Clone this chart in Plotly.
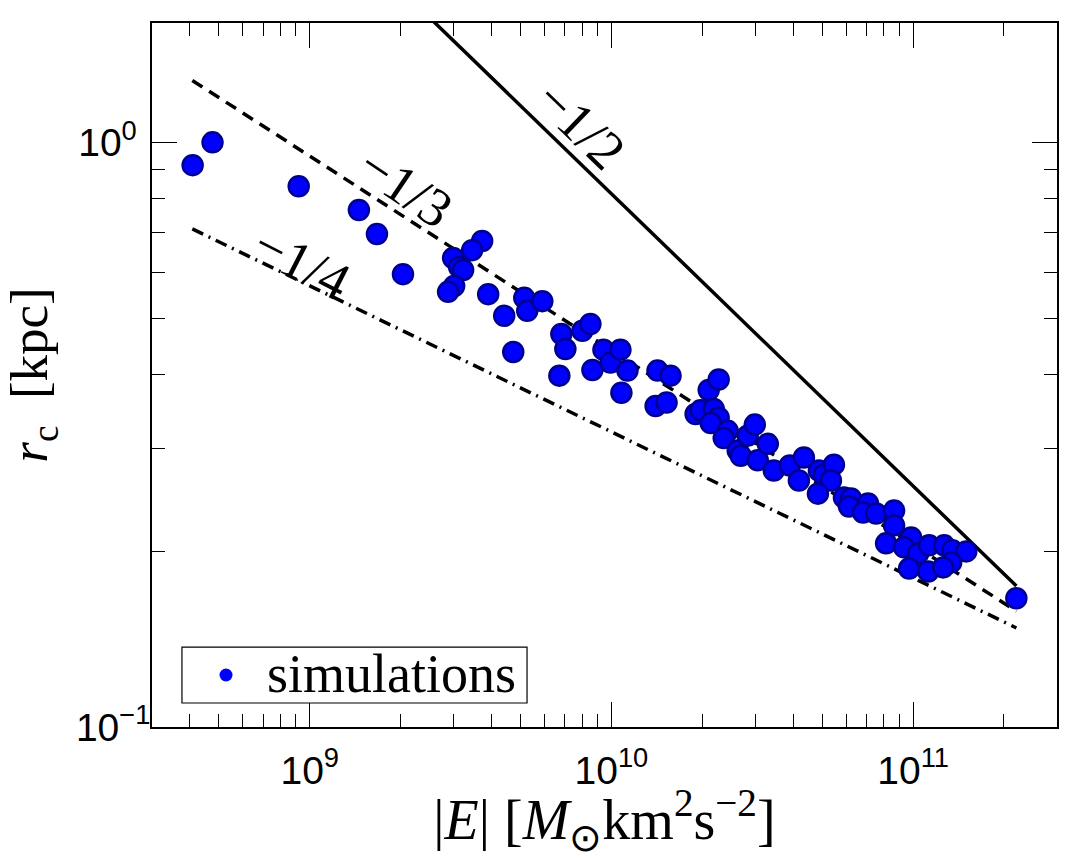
import plotly.graph_objects as go

# simulation points: |E| [Msun km^2 s^-2], r_c [kpc]
E_sim = [4.09e8, 4.76e8, 9.19e8, 1.455e9, 1.670e9, 2.037e9, 3.727e9, 3.453e9, 2.987e9, 3.126e9,
         3.223e9, 3.010e9, 2.874e9, 3.903e9, 4.411e9, 5.140e9, 5.259e9, 5.899e9, 4.726e9, 6.823e9,
         7.035e9, 8.012e9, 8.516e9, 6.719e9, 8.648e9, 9.406e9, 9.924e9, 1.071e10, 1.130e10, 1.079e10,
         1.421e10, 1.570e10, 1.401e10, 1.523e10, 2.101e10, 2.267e10, 1.901e10, 1.975e10, 2.183e10, 2.267e10,
         2.133e10, 2.429e10, 2.356e10, 2.622e10, 2.683e10, 2.830e10, 2.987e10, 3.055e10, 3.298e10, 3.453e10,
         3.903e10, 4.345e10, 4.182e10, 4.873e10, 5.062e10, 5.464e10, 5.340e10, 4.836e10, 5.899e10, 6.223e10,
         6.129e10, 7.088e10, 6.823e10, 7.538e10, 8.648e10, 8.648e10, 8.135e10, 9.850e10, 9.335e10, 1.039e11,
         1.130e11, 9.700e10, 1.122e11, 1.268e11, 1.348e11, 1.500e11, 1.337e11, 1.258e11, 2.199e11]
r_sim = [0.914, 1.000, 0.841, 0.766, 0.697, 0.595, 0.678, 0.654, 0.634, 0.612,
         0.605, 0.568, 0.555, 0.550, 0.505, 0.542, 0.515, 0.535, 0.438, 0.470,
         0.443, 0.476, 0.489, 0.399, 0.408, 0.442, 0.420, 0.442, 0.407, 0.373,
         0.407, 0.399, 0.354, 0.359, 0.377, 0.393, 0.343, 0.348, 0.350, 0.338,
         0.331, 0.321, 0.312, 0.297, 0.291, 0.315, 0.329, 0.286, 0.305, 0.2746,
         0.280, 0.289, 0.264, 0.2746, 0.270, 0.281, 0.264, 0.2507, 0.2469, 0.2459,
         0.2383, 0.2411, 0.2327, 0.2318, 0.2346, 0.2212, 0.2061, 0.2110, 0.2029, 0.1981,
         0.2045, 0.1867, 0.1845, 0.2045, 0.2005, 0.1997, 0.1912, 0.1875, 0.166]

# reference power-law guide lines (end points)
E_line = [4.08e8, 2.2e11]
r_half = [4.04, 0.1742]      # slope -1/2
r_third = [1.276, 0.1578]    # slope -1/3
r_quarter = [0.711, 0.1477]  # slope -1/4

labels = ["\u22121/2", "\u22121/3", "\u22121/4"]
label_logE = [9.897, 9.316, 8.973]
label_logr = [0.0300, -0.0760, -0.2065]
label_angle = [44, 34, 27]

legend_name = "simulations"

x_major = [1e9, 1e10, 1e11]
x_major_text = ["10<sup>9</sup>", "10<sup>10</sup>", "10<sup>11</sup>"]
y_major = [0.1, 1.0]
y_major_text = ["10<sup>\u22121</sup>", "10<sup>0\u2002</sup>"]
x_minor = [m * 10 ** d for d in (8, 9, 10, 11) for m in range(2, 10)]
y_minor = [m * 0.1 for m in range(2, 10)]

serif = "Liberation Serif"
sans = "Liberation Sans"

fig = go.Figure()
fig.add_trace(go.Scatter(x=E_line, y=r_half, mode="lines", showlegend=False,
                         line=dict(color="black", width=3.5)))
fig.add_trace(go.Scatter(x=E_line, y=r_third, mode="lines", showlegend=False,
                         line=dict(color="black", width=3.5, dash="12px,8px")))
fig.add_trace(go.Scatter(x=E_line, y=r_quarter, mode="lines", showlegend=False,
                         line=dict(color="black", width=3.5, dash="12px,6px,2px,6px")))
fig.add_trace(go.Scatter(x=E_sim, y=r_sim, mode="markers", showlegend=False, name=legend_name,
                         marker=dict(size=20, color="#0000ff",
                                     line=dict(color="#000090", width=2.5))))

for t, lx, ly, a in zip(labels, label_logE, label_logr, label_angle):
    fig.add_annotation(x=lx, y=ly, xref="x", yref="y", text=t, showarrow=False,
                       textangle=a, font=dict(family=serif, size=54, color="black"))

# hand-drawn legend box (paper coordinates of the plot area)
fig.add_shape(type="rect", xref="paper", yref="paper", x0=0.0331, x1=0.4144,
              y0=0.0341, y1=0.1136, line=dict(color="black", width=1.2),
              fillcolor="white", layer="above")
fig.add_shape(type="circle", xref="paper", yref="paper", xsizemode="pixel", ysizemode="pixel",
              xanchor=0.0818, yanchor=0.0739, x0=-6.5, x1=6.5, y0=-6.5, y1=6.5,
              fillcolor="#0000ff", line=dict(color="#0000ff", width=0), layer="above")
fig.add_annotation(x=0.1249, y=0.0753, xref="paper", yref="paper", xanchor="left",
                   yanchor="middle", text=legend_name, showarrow=False,
                   font=dict(family=serif, size=54, color="black"))

axis_common = dict(type="log", showline=True, linecolor="black", linewidth=1.5,
                   mirror="allticks", ticks="inside", ticklen=25, tickwidth=1,
                   tickcolor="black", showgrid=False, zeroline=False,
                   tickfont=dict(family=sans, size=39, color="black"))

fig.update_xaxes(range=[8.477, 11.477], tickmode="array", tickvals=x_major,
                 ticktext=x_major_text,
                 minor=dict(ticks="inside", ticklen=13, tickwidth=1, tickcolor="black",
                            tickmode="array", tickvals=x_minor, showgrid=False),
                 title=dict(text="|<i>E</i>| [<i>M</i><sub>\u2299</sub>km<sup>2</sup>s<sup>\u22122</sup>]",
                            font=dict(family=serif, size=56, color="black"), standoff=8),
                 ticklabelstandoff=8,
                 **axis_common)
fig.update_yaxes(range=[-1, 0.2041], tickmode="array", tickvals=y_major,
                 ticktext=y_major_text,
                 minor=dict(ticks="inside", ticklen=13, tickwidth=1, tickcolor="black",
                            tickmode="array", tickvals=y_minor, showgrid=False),
                 title=dict(text="<i>r</i><sub>c</sub>\u2002[kpc]",
                            font=dict(family=serif, size=53, color="black"), standoff=14),
                 ticklabelstandoff=-8,
                 **axis_common)

fig.update_layout(width=1071, height=859, plot_bgcolor="white", paper_bgcolor="white",
                  showlegend=False,
                  margin=dict(l=152, r=14, t=23, b=132, autoexpand=False))

fig.write_html("out.html")
